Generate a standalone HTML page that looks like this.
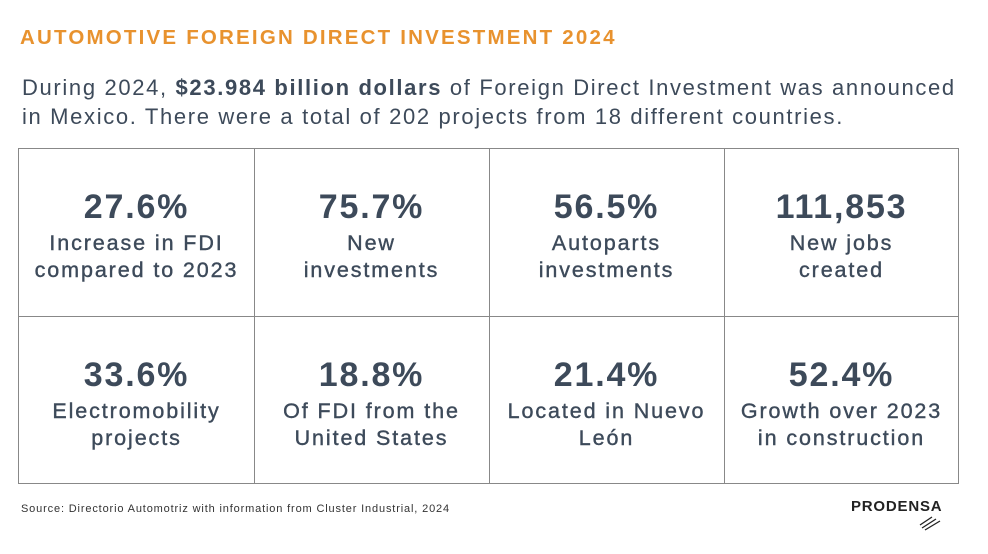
<!DOCTYPE html>
<html><head><style>
body{margin:0;width:988px;height:554px;background:#fff;font-family:"Liberation Sans",sans-serif;color:#3d4a5a;position:relative;overflow:hidden}
.t{position:absolute;left:20px;top:26px;font-size:20.5px;font-weight:bold;color:#e8922e;letter-spacing:2.2px}
.p{position:absolute;left:22px;top:73px;font-size:22px;line-height:29px;width:966px;letter-spacing:1.65px;white-space:nowrap}
.g{position:absolute;left:18px;top:148px;width:941px;height:336px;border:1px solid #888;box-sizing:border-box}
.c{position:absolute;width:235px;text-align:center}
.n{font-size:34px;font-weight:bold;line-height:40px;letter-spacing:1.8px}
.l{font-size:21.5px;line-height:27px;margin-top:3px;letter-spacing:1.9px;-webkit-text-stroke:0.4px #3d4a5a}
.v{position:absolute;top:0;bottom:0;width:1px;background:#888}
.h{position:absolute;left:0;right:0;top:167px;height:1px;background:#888}
.s{position:absolute;left:21px;top:503px;font-size:11px;color:#333;letter-spacing:0.85px}
.logo{position:absolute;left:851px;top:498px;font-size:15px;font-weight:bold;color:#222;letter-spacing:0.8px}
</style></head><body>
<div class="t">AUTOMOTIVE FOREIGN DIRECT INVESTMENT 2024</div>
<div class="p">During 2024, <b>$23.984 billion dollars</b> of Foreign Direct Investment was announced<br>in Mexico. There were a total of 202 projects from 18 different countries.</div>
<div class="g">
<div class="v" style="left:235px"></div><div class="v" style="left:470px"></div><div class="v" style="left:705px"></div><div class="h"></div>
<div class="c" style="left:0;top:38px"><div class="n">27.6%</div><div class="l">Increase in FDI<br>compared to 2023</div></div>
<div class="c" style="left:235px;top:38px"><div class="n">75.7%</div><div class="l">New<br>investments</div></div>
<div class="c" style="left:470px;top:38px"><div class="n">56.5%</div><div class="l">Autoparts<br>investments</div></div>
<div class="c" style="left:705px;top:38px"><div class="n">111,853</div><div class="l">New jobs<br>created</div></div>
<div class="c" style="left:0;top:206px"><div class="n">33.6%</div><div class="l">Electromobility<br>projects</div></div>
<div class="c" style="left:235px;top:206px"><div class="n">18.8%</div><div class="l">Of FDI from the<br>United States</div></div>
<div class="c" style="left:470px;top:206px"><div class="n">21.4%</div><div class="l">Located in Nuevo<br>León</div></div>
<div class="c" style="left:705px;top:206px"><div class="n">52.4%</div><div class="l">Growth over 2023<br>in construction</div></div>
</div>
<div class="s">Source: Directorio Automotriz with information from Cluster Industrial, 2024</div>
<div class="logo">PRODENSA</div>
<svg style="position:absolute;left:918px;top:515px" width="24" height="16"><g stroke="#222" stroke-width="1.3"><line x1="2" y1="10" x2="14" y2="2"/><line x1="4" y1="13" x2="18" y2="4"/><line x1="7" y1="15" x2="22" y2="6"/></g></svg>
</body></html>
